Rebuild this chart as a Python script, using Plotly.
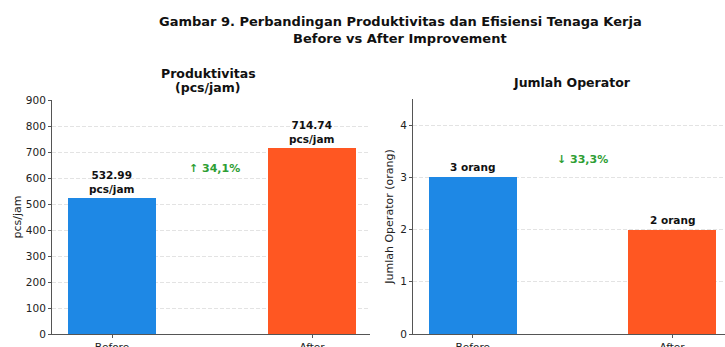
import plotly.graph_objects as go

categories = ["Before", "After"]
prod_values = [522, 714.74]
prod_labels = ["532.99<br>pcs/jam", "714.74<br>pcs/jam"]
op_values = [3, 2]
op_labels = ["3 orang", "2 orang"]
prod_change = "↑ 34,1%"
op_change = "↓ 33,3%"
prod_ticks = [0, 100, 200, 300, 400, 500, 600, 700, 800, 900]
op_ticks = [0, 1, 2, 3, 4]

W, H = 725, 347
MB = 13
PH = H - MB  # plot height in px (t=0)

def py(p):
    return (PH - p) / PH

def px(p):
    return p / W

BLUE = "#1E88E5"
ORANGE = "#FF5722"
GREEN = "#2E9E34"
FONT = "DejaVu Sans"
AX = "#555555"

xpos = [0, 1]

fig = go.Figure()
fig.add_trace(go.Bar(x=xpos, y=prod_values, width=0.44, marker=dict(color=[BLUE, ORANGE], line=dict(width=0)),
                     xaxis="x", yaxis="y", showlegend=False, hoverinfo="skip"))
fig.add_trace(go.Bar(x=xpos, y=op_values, width=0.44, marker=dict(color=[BLUE, ORANGE], line=dict(width=0)),
                     xaxis="x2", yaxis="y2", showlegend=False, hoverinfo="skip"))

common_x = dict(tickmode="array", tickvals=xpos, ticktext=categories, showgrid=False, zeroline=False,
                showline=True, linecolor=AX, linewidth=1, ticks="outside", ticklen=3, tickcolor=AX,
                automargin=False, tickfont=dict(family=FONT, size=10.5, color="#222"))
common_y = dict(showline=True, linecolor=AX, linewidth=1, ticks="outside", ticklen=3, tickcolor=AX,
                zeroline=False, showgrid=True, gridcolor="#e3e3e3", griddash="4px,2px", gridwidth=1,
                automargin=False, tickfont=dict(family=FONT, size=10.5, color="#222"))

fig.update_layout(
    width=W, height=H,
    margin=dict(l=0, r=0, t=0, b=MB),
    paper_bgcolor="white", plot_bgcolor="white",
    bargap=0,
    xaxis=dict(domain=[px(52), px(370)], range=[-0.30, 1.29], anchor="y", **common_x),
    yaxis=dict(domain=[0, py(100)], range=[0, 900], tickvals=prod_ticks, anchor="x",
               title=dict(text="pcs/jam", font=dict(family=FONT, size=11, color="#222"), standoff=2), **common_y),
    xaxis2=dict(domain=[px(413), 1.0], range=[-0.30, 1.266], anchor="y2", **common_x),
    yaxis2=dict(domain=[0, py(99)], range=[0, 4.5], tickvals=op_ticks, anchor="x2",
                title=dict(text="Jumlah Operator (orang)", font=dict(family=FONT, size=11, color="#222"), standoff=4),
                **common_y),
)

ann = []
# main title
ann.append(dict(text="<b>Gambar 9. Perbandingan Produktivitas dan Efisiensi Tenaga Kerja</b>", x=px(400), y=py(22),
                xref="paper", yref="paper", showarrow=False, font=dict(family=FONT, size=13, color="#111"),
                xanchor="center", yanchor="middle"))
ann.append(dict(text="<b>Before vs After Improvement</b>", x=px(400), y=py(39),
                xref="paper", yref="paper", showarrow=False, font=dict(family=FONT, size=13, color="#111"),
                xanchor="center", yanchor="middle"))
# subplot titles
ann.append(dict(text="<b>Produktivitas</b>", x=px(208), y=py(73), xref="paper", yref="paper", showarrow=False,
                font=dict(family=FONT, size=12.5, color="#111"), xanchor="center", yanchor="middle"))
ann.append(dict(text="<b>(pcs/jam)</b>", x=px(208), y=py(88), xref="paper", yref="paper", showarrow=False,
                font=dict(family=FONT, size=12.5, color="#111"), xanchor="center", yanchor="middle"))
ann.append(dict(text="<b>Jumlah Operator</b>", x=px(572), y=py(82), xref="paper", yref="paper", showarrow=False,
                font=dict(family=FONT, size=12.5, color="#111"), xanchor="center", yanchor="middle"))
# bar labels
for xv, v, t in zip(xpos, prod_values, prod_labels):
    ann.append(dict(text="<b>" + t + "</b>", x=xv, y=v, xref="x", yref="y", showarrow=False, yanchor="bottom",
                    yshift=1, font=dict(family=FONT, size=10.5, color="#111")))
for xv, v, t in zip(xpos, op_values, op_labels):
    ann.append(dict(text="<b>" + t + "</b>", x=xv, y=v, xref="x2", yref="y2", showarrow=False, yanchor="bottom",
                    yshift=2, font=dict(family=FONT, size=10.5, color="#111")))
# change labels
ann.append(dict(text="<b>" + prod_change + "</b>", x=0.51, y=638, xref="x", yref="y", showarrow=False,
                font=dict(family=FONT, size=11, color=GREEN)))
ann.append(dict(text="<b>" + op_change + "</b>", x=0.55, y=3.35, xref="x2", yref="y2", showarrow=False,
                font=dict(family=FONT, size=11, color=GREEN)))
fig.update_layout(annotations=ann)

fig.write_html("out.html")
